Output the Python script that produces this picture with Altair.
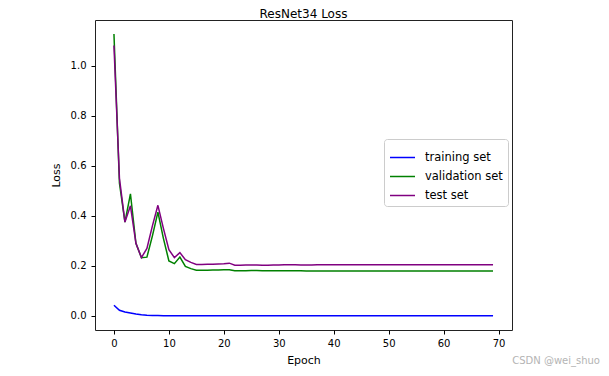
import altair as alt
import pandas as pd

epochs = list(range(70))

training = [0.043, 0.023, 0.016, 0.012, 0.008, 0.005, 0.003, 0.002, 0.0015, 0.001,
            0.001, 0.001, 0.0009, 0.0009, 0.0008, 0.0008, 0.0008, 0.0007, 0.0007, 0.0007,
            0.0007, 0.0006, 0.0006, 0.0006, 0.0006, 0.0006, 0.0005, 0.0005, 0.0005, 0.0005,
            0.0005, 0.0005, 0.0005, 0.0005, 0.0005, 0.0005, 0.0005, 0.0005, 0.0005, 0.0005,
            0.0005, 0.0005, 0.0005, 0.0005, 0.0005, 0.0005, 0.0005, 0.0005, 0.0005, 0.0005,
            0.0005, 0.0005, 0.0005, 0.0005, 0.0005, 0.0005, 0.0005, 0.0005, 0.0005, 0.0005,
            0.0005, 0.0005, 0.0005, 0.0005, 0.0005, 0.0005, 0.0005, 0.0005, 0.0005, 0.0005]

validation = [1.126, 0.530, 0.375, 0.488, 0.290, 0.233, 0.235, 0.320, 0.415, 0.310,
              0.220, 0.209, 0.235, 0.198, 0.189, 0.183, 0.183, 0.183, 0.184, 0.184,
              0.185, 0.185, 0.181, 0.181, 0.181, 0.182, 0.182, 0.181, 0.181, 0.181,
              0.181, 0.181, 0.181, 0.181, 0.181, 0.180, 0.180, 0.180, 0.180, 0.180,
              0.180, 0.180, 0.180, 0.180, 0.180, 0.180, 0.180, 0.180, 0.180, 0.180,
              0.180, 0.180, 0.180, 0.180, 0.180, 0.180, 0.180, 0.180, 0.180, 0.180,
              0.180, 0.180, 0.180, 0.180, 0.180, 0.180, 0.180, 0.180, 0.180, 0.180]

test = [1.080, 0.550, 0.375, 0.440, 0.290, 0.233, 0.270, 0.360, 0.442, 0.350,
        0.265, 0.233, 0.253, 0.225, 0.214, 0.206, 0.206, 0.207, 0.207, 0.208,
        0.209, 0.211, 0.203, 0.203, 0.204, 0.204, 0.204, 0.203, 0.203, 0.204,
        0.204, 0.205, 0.205, 0.205, 0.204, 0.204, 0.204, 0.205, 0.205, 0.205,
        0.205, 0.205, 0.205, 0.205, 0.205, 0.205, 0.205, 0.205, 0.205, 0.205,
        0.205, 0.205, 0.205, 0.205, 0.205, 0.205, 0.205, 0.205, 0.205, 0.205,
        0.205, 0.205, 0.205, 0.205, 0.205, 0.205, 0.205, 0.205, 0.205, 0.205]

series_names = ["training set", "validation set", "test set"]
series_colors = ["#0000ff", "#008000", "#800080"]
x_ticks = [0, 10, 20, 30, 40, 50, 60, 70]
y_ticks = [0.0, 0.2, 0.4, 0.6, 0.8, 1.0]
watermark_text = ["CSDN @wei_shuo"]

rows = []
for i, (name, vals) in enumerate(zip(series_names, [training, validation, test])):
    for e, v in zip(epochs, vals):
        rows.append({"Epoch": e, "Loss": v, "series": name, "order": i})
df = pd.DataFrame(rows)

FONT = "DejaVu Sans"

lines = alt.Chart(df).mark_line(strokeWidth=1.5).encode(
    x=alt.X("Epoch:Q",
            scale=alt.Scale(domain=[-3.45, 72.45], nice=False, zero=False),
            axis=alt.Axis(values=x_ticks, format="d", title="Epoch")),
    y=alt.Y("Loss:Q",
            scale=alt.Scale(domain=[-0.056, 1.182], nice=False, zero=False),
            axis=alt.Axis(values=y_ticks, format=".1f", title="Loss")),
    color=alt.Color("series:N",
                    scale=alt.Scale(domain=series_names, range=series_colors),
                    legend=alt.Legend(title=None, orient="none", legendX=289, legendY=119,
                                      symbolType="stroke", symbolStrokeWidth=1.5,
                                      symbolSize=625, labelFontSize=11.5, labelFont=FONT,
                                      labelColor="#000000", labelOffset=9,
                                      rowPadding=-1.5, padding=5, strokeColor="#cccccc",
                                      fillColor="white", cornerRadius=3)),
    detail="series:N",
    order="order:Q",
)

watermark = alt.Chart(pd.DataFrame({"t": watermark_text})).mark_text(
    font=FONT, fontSize=10, color="#b4b4b4", align="right", baseline="middle"
).encode(text="t:N", x=alt.value(505), y=alt.value(341))

chart = alt.layer(lines, watermark).properties(
    width=417, height=310,
    title=alt.TitleParams("ResNet34 Loss", font=FONT, fontSize=12, fontWeight="normal",
                          color="#000000", offset=0, dy=1),
    autosize="none",
    padding={"left": 87, "top": 12, "right": 88, "bottom": 38},
).configure_view(stroke="#222222", strokeWidth=1).configure_axis(
    grid=False, domain=False, tickColor="#000000", tickSize=4, tickWidth=1,
    labelFont=FONT, labelFontSize=10, labelColor="#000000",
    titleFont=FONT, titleFontSize=11, titleFontWeight="normal", titleColor="#000000",
).configure_axisX(labelPadding=4, titlePadding=6).configure_axisY(labelPadding=5, titlePadding=9)

chart.save("out.html", embed_options={"renderer": "svg", "actions": False})
